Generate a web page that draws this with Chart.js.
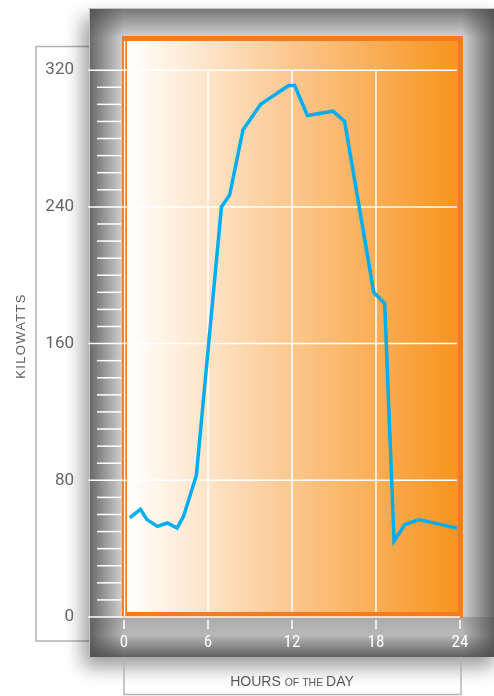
<!DOCTYPE html>
<html>
<head>
<meta charset="utf-8">
<script src="https://cdn.jsdelivr.net/npm/chart.js@4.4.1/dist/chart.umd.min.js"></script>
<style>
  html, body { margin: 0; padding: 0; background: #fff; }
  #wrap { width: 494px; height: 696px; position: relative; }
</style>
</head>
<body>
<div id="wrap"><canvas id="powerChart"></canvas></div>
<script>
// hour of day / kilowatts
const hours = [0.41, 1.17, 1.64, 2.39, 3.1, 3.79, 4.26, 5.17, 6.96, 7.55, 8.5, 9.76, 11.76, 12.19, 13.1, 14.93, 15.76, 17.84, 18.62, 19.29, 20.05, 21.05, 23.79];
const kilowatts = [58, 63, 57, 53, 55, 52, 59, 83, 240, 247, 285, 300, 311, 311, 293.5, 296, 290, 190, 183.5, 44.5, 54, 57, 52];
const xTickLabels = [0, 6, 12, 18, 24];
const yTickLabels = [0, 80, 160, 240, 320];
const minorStep = 10;

const points = hours.map((h, i) => ({ x: h, y: kilowatts[i] }));

function line(ctx, x1, y1, x2, y2) {
    ctx.beginPath();
    ctx.moveTo(x1, y1);
    ctx.lineTo(x2, y2);
    ctx.stroke();
}

const decor = {
    id: "decor",
    beforeDraw(chart) {
        const ctx = chart.ctx;
        const W = chart.width, H = chart.height;
        ctx.save();
        ctx.fillStyle = "#fff";
        ctx.fillRect(0, 0, W, H);

        // bracket behind the y labels
        ctx.strokeStyle = "#b4b4b4";
        ctx.lineWidth = 1.5;
        ctx.beginPath();
        ctx.moveTo(90, 46.5);
        ctx.lineTo(36, 46.5);
        ctx.lineTo(36, 641);
        ctx.lineTo(90, 641);
        ctx.stroke();

        // grey frame with drop shadow
        const fx = 89, fy = 8, fr = 500, fb = 657;
        ctx.save();
        ctx.shadowColor = "rgba(0,0,0,0.4)";
        ctx.shadowBlur = 18;
        ctx.shadowOffsetX = -6;
        ctx.shadowOffsetY = 10;
        ctx.fillStyle = "#d4d4d4";
        ctx.fillRect(fx, fy, fr - fx, fb - fy);
        ctx.restore();

        const dark = "rgba(75,75,75,";
        let g = ctx.createLinearGradient(fx, 0, 124, 0);
        g.addColorStop(0, dark + "0.8)");
        g.addColorStop(1, dark + "0)");
        ctx.fillStyle = g;
        ctx.fillRect(fx, fy, 124 - fx, fb - fy);
        g = ctx.createLinearGradient(494, 0, 462, 0);
        g.addColorStop(0, dark + "0.8)");
        g.addColorStop(1, dark + "0)");
        ctx.fillStyle = g;
        ctx.fillRect(462, fy, fr - 462, fb - fy);
        g = ctx.createLinearGradient(0, fy, 0, 38);
        g.addColorStop(0, dark + "0.7)");
        g.addColorStop(1, dark + "0)");
        ctx.fillStyle = g;
        ctx.fillRect(fx, fy, fr - fx, 30);
        g = ctx.createLinearGradient(0, fb, 0, 617);
        g.addColorStop(0, dark + "0.85)");
        g.addColorStop(0.55, dark + "0.2)");
        g.addColorStop(1, dark + "0.3)");
        ctx.fillStyle = g;
        ctx.fillRect(fx, 617, fr - fx, fb - 617);

        ctx.strokeStyle = "#c4c4c4";
        ctx.lineWidth = 1;
        ctx.beginPath();
        ctx.moveTo(fx + 0.5, fb);
        ctx.lineTo(fx + 0.5, fy + 0.5);
        ctx.lineTo(fr, fy + 0.5);
        ctx.stroke();

        // orange panel
        ctx.fillStyle = "#f47b20";
        ctx.fillRect(122, 36, 463 - 122, 618 - 36);
        g = ctx.createLinearGradient(127, 0, 458, 0);
        g.addColorStop(0, "#ffffff");
        g.addColorStop(0.5, "#fbc78e");
        g.addColorStop(1, "#f7941d");
        ctx.fillStyle = g;
        ctx.fillRect(127, 41, 458 - 127, 612 - 41);
        ctx.strokeStyle = "#ffffff";
        ctx.lineWidth = 1.3;
        line(ctx, 124.6, 41, 124.6, 616);

        // box under the x axis
        ctx.strokeStyle = "#b4b4b4";
        ctx.lineWidth = 1.5;
        ctx.beginPath();
        ctx.moveTo(124, fb);
        ctx.lineTo(124, 694.5);
        ctx.lineTo(461, 694.5);
        ctx.lineTo(461, fb);
        ctx.stroke();

        // axis titles
        ctx.fillStyle = "#5a5a5a";
        ctx.textBaseline = "alphabetic";
        const big = "14px 'Liberation Sans', sans-serif";
        const small = "10.5px 'Liberation Sans', sans-serif";
        const parts = [["HOURS ", big], ["OF THE ", small], ["DAY", big]];
        let total = 0;
        parts.forEach(p => { ctx.font = p[1]; total += ctx.measureText(p[0]).width; });
        let tx = 292 - total / 2;
        ctx.textAlign = "left";
        parts.forEach(p => {
            ctx.font = p[1];
            ctx.fillText(p[0], tx, 686);
            tx += ctx.measureText(p[0]).width;
        });

        ctx.save();
        ctx.translate(25, 336);
        ctx.rotate(-Math.PI / 2);
        ctx.font = "13px 'Liberation Sans', sans-serif";
        ctx.letterSpacing = "1.3px";
        ctx.textAlign = "center";
        ctx.fillStyle = "#5e5e5e";
        ctx.fillText("KILOWATTS", 0, 0);
        ctx.restore();
        ctx.restore();
    },
    beforeDatasetsDraw(chart) {
        const ctx = chart.ctx;
        const xs = chart.scales.x, ys = chart.scales.y;
        ctx.save();
        ctx.strokeStyle = "#ffffff";
        ctx.lineWidth = 1.5;

        yTickLabels.forEach(v => {
            const y = ys.getPixelForValue(v);
            line(ctx, 88, y, v === 0 ? 460 : 457, y);
        });
        const topY = ys.getPixelForValue(yTickLabels[yTickLabels.length - 1]);
        xTickLabels.slice(1, -1).forEach(v => {
            const x = xs.getPixelForValue(v);
            line(ctx, x, topY, x, 612);
        });
        for (let v = minorStep; v < 320; v += minorStep) {
            if (v % 80 === 0) continue;
            const y = ys.getPixelForValue(v);
            line(ctx, 97, y, 121, y);
        }
        xTickLabels.forEach(v => {
            const x = xs.getPixelForValue(v);
            line(ctx, x, 620, x, 629);
        });

        ctx.textBaseline = "middle";
        ctx.font = "17px Roboto, 'Liberation Sans', sans-serif";
        ctx.fillStyle = "#666";
        ctx.textAlign = "right";
        yTickLabels.forEach(v => {
            ctx.fillText(String(v), 74, ys.getPixelForValue(v));
        });
        ctx.fillStyle = "#ffffff";
        ctx.textAlign = "center";
        ctx.font = "17px 'Liberation Sans Narrow', 'Roboto Condensed', Roboto, sans-serif";
        xTickLabels.forEach(v => {
            ctx.fillText(String(v), xs.getPixelForValue(v), 643);
        });
        ctx.restore();
    }
};

const powerCtx = document.getElementById("powerChart").getContext("2d");
const powerChart = new Chart(powerCtx, {
    type: "scatter",
    data: {
        datasets: [
            {
                label: "Kilowatts",
                data: points,
                showLine: true,
                borderColor: "#00aeef",
                borderWidth: 3.5,
                borderJoinStyle: "miter",
                pointRadius: 0,
                tension: 0,
            },
        ],
    },
    options: {
        responsive: true,
        maintainAspectRatio: false,
        animation: false,
        events: [],
        layout: {
            padding: { left: 124, right: 34, top: 36, bottom: 79 },
        },
        plugins: {
            legend: { display: false },
            tooltip: { enabled: false },
        },
        scales: {
            x: { type: "linear", min: 0, max: 24, display: false },
            y: { min: 0, max: 340, display: false },
        },
    },
    plugins: [decor],
});
</script>
</body>
</html>
